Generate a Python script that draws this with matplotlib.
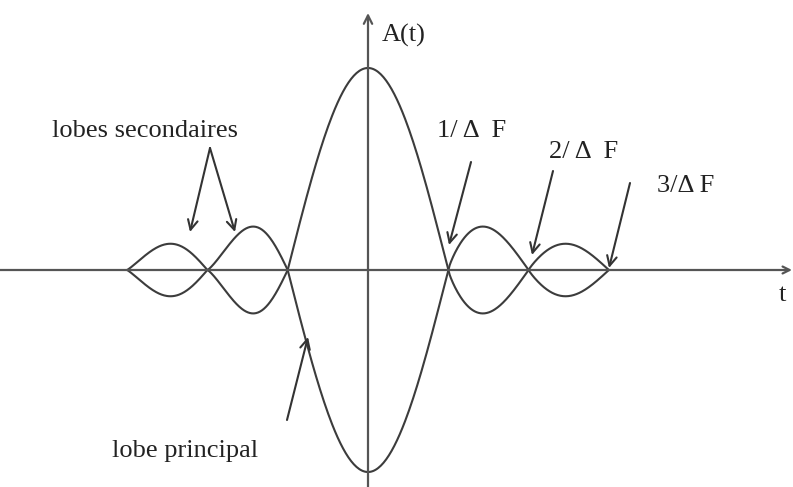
import numpy as np
import matplotlib
matplotlib.use("Agg")
import matplotlib.pyplot as plt

# ---- data (time in units of 1/ΔF, amplitude normalised) ----
lobe_edges = [-3, -2, -1, 1, 2, 3]            # zero crossings
lobe_amp = [0.13, -0.215, 1.0, -0.215, 0.13]  # signed peak of each lobe
lobe_peak_t = [-2.46, -1.43, 0.0, 1.43, 2.46]  # where each lobe peaks

labels = ["A(t)", "lobes secondaires", "1/ Δ  F", "2/ Δ  F", "3/Δ F", "lobe principal", "t"]

# pixel geometry of the reference
X0, SX = 368.0, 80.3     # pixel x of t=0, px per unit
Y0, SY = 270.0, 202.0    # pixel y of A=0, px per unit
W, H = 793, 487

def px(x, y):
    return ((x - X0) / SX, (Y0 - y) / SY)

plt.rcParams['font.family'] = ['Liberation Serif', 'DejaVu Serif']
fig = plt.figure(figsize=(W / 100, H / 100), dpi=100)
ax = fig.add_axes([0, 0, 1, 1])
ax.set_xlim(px(0, 0)[0], px(W, 0)[0])
ax.set_ylim(px(0, H)[1], px(0, 0)[1])
ax.axis('off')

# ---- curves A(t) and -A(t) built lobe by lobe ----
ts, vs = [], []
for a, b, amp, pk in zip(lobe_edges[:-1], lobe_edges[1:], lobe_amp, lobe_peak_t):
    u = np.linspace(0, 1, 120)
    up = (pk - a) / (b - a)
    p = np.log(0.5) / np.log(up)
    ts.append(a + (b - a) * u)
    vs.append(amp * np.sin(np.pi * u ** p))
t = np.concatenate(ts)
v = np.concatenate(vs)
curve_col = '#3c3c3c'
ax.plot(t, v, color=curve_col, lw=1.5, solid_capstyle='round')
ax.plot(t, -v, color=curve_col, lw=1.5, solid_capstyle='round')

# ---- axes with arrows ----
axis_col = '#555555'
ax.annotate('', xy=px(792, Y0), xytext=px(0, Y0),
            arrowprops=dict(arrowstyle='->,head_length=0.5,head_width=0.25', color=axis_col, lw=1.6,
                            shrinkA=0, shrinkB=0))
ax.annotate('', xy=px(X0, 13), xytext=px(X0, H),
            arrowprops=dict(arrowstyle='->,head_length=0.6,head_width=0.3', color=axis_col, lw=1.6,
                            shrinkA=0, shrinkB=0))

# ---- labels ----
fs = 19
tc = '#222222'
ax.text(*px(382, 35), labels[0], fontsize=fs, color=tc, ha='left', va='center')
ax.text(*px(238, 137), labels[1], fontsize=fs, color=tc, ha='right', va='baseline')
ax.text(*px(437, 137), labels[2], fontsize=fs, color=tc, ha='left', va='baseline')
ax.text(*px(549, 158), labels[3], fontsize=fs, color=tc, ha='left', va='baseline')
ax.text(*px(657, 192), labels[4], fontsize=fs, color=tc, ha='left', va='baseline')
ax.text(*px(112, 457), labels[5], fontsize=fs, color=tc, ha='left', va='baseline')
ax.text(*px(782, 295), labels[6], fontsize=fs, color=tc, ha='center', va='center')

# ---- pointer arrows ----
arrows = [((210, 148), (190, 232)), ((210, 148), (235, 232)),
          ((471, 162), (449, 245)), ((553, 171), (532, 255)),
          ((630, 183), (609, 268)), ((287, 420), (308, 337))]
for (x1, y1), (x2, y2) in arrows:
    ax.annotate('', xy=px(x2, y2), xytext=px(x1, y1),
                arrowprops=dict(arrowstyle='->,head_length=0.7,head_width=0.35', color='#333333', lw=1.5,
                                shrinkA=0, shrinkB=0))

fig.savefig('out.png', dpi=100, facecolor='white')
